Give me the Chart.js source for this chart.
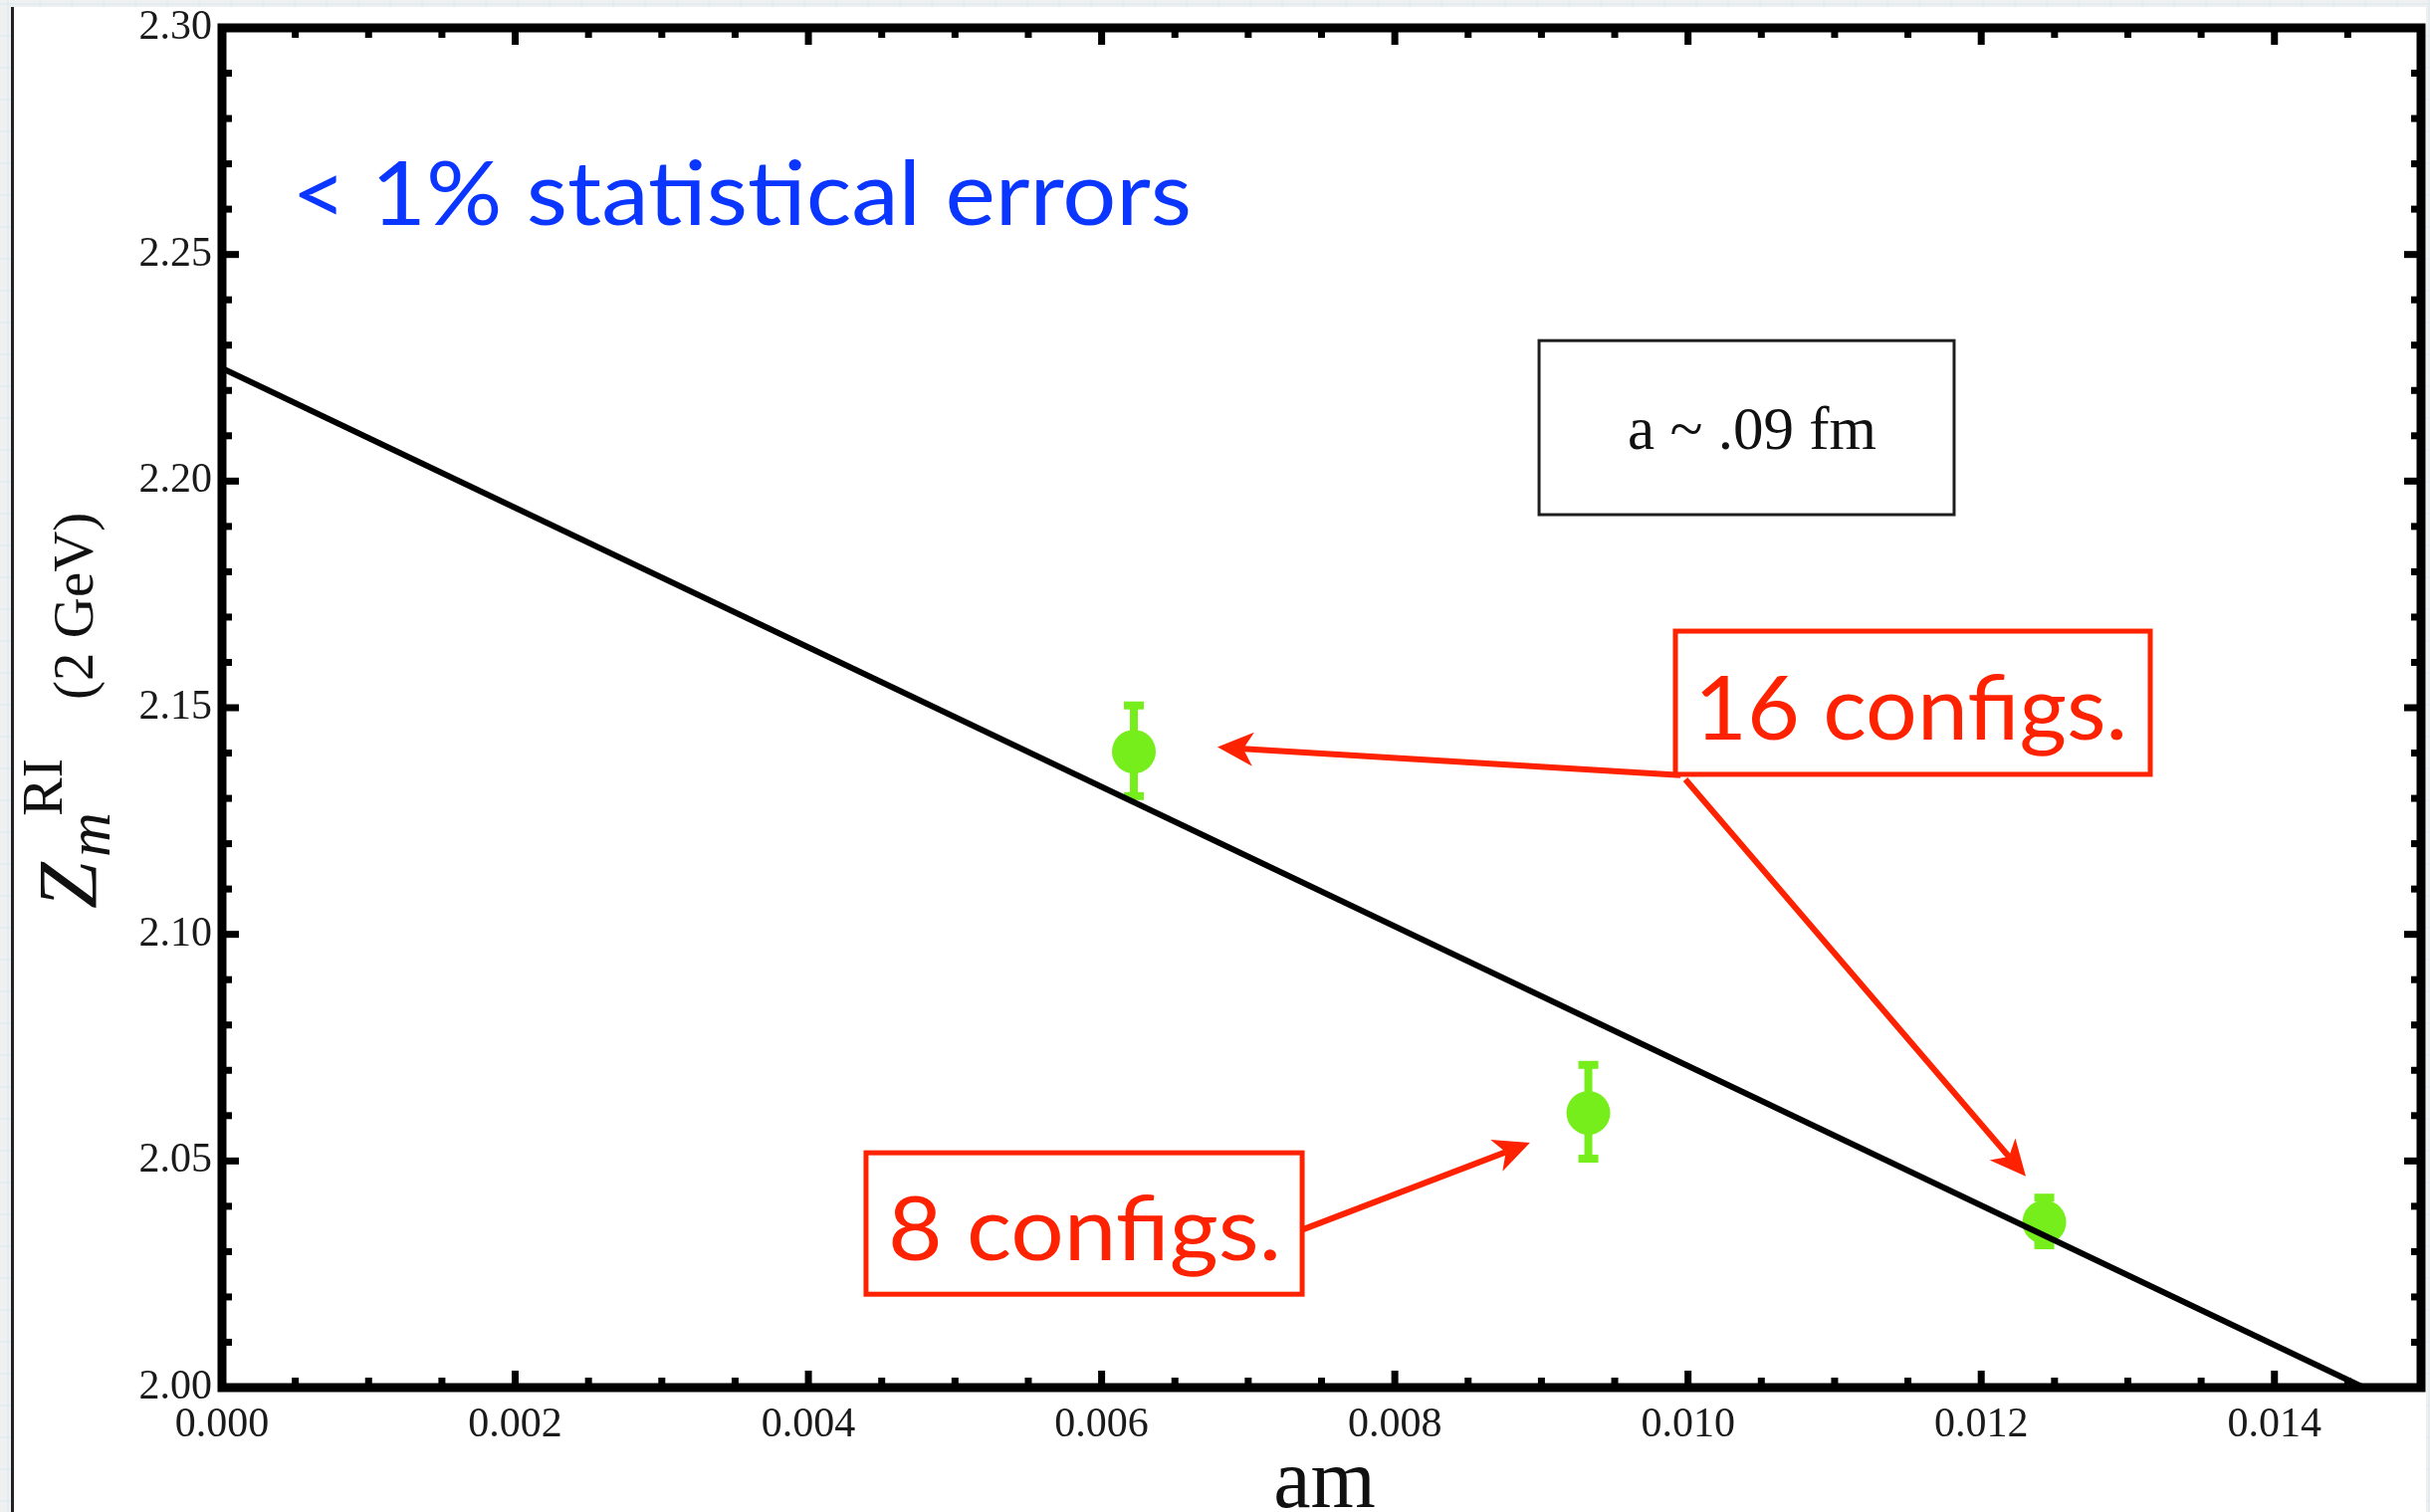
<!DOCTYPE html>
<html>
<head>
<meta charset="utf-8">
<title>Z_m^RI (2 GeV) vs am</title>
<script src="https://cdn.jsdelivr.net/npm/chart.js@4.4.1/dist/chart.umd.min.js"></script>
<style>
  html, body { margin: 0; padding: 0; background: #eef0f1; overflow: hidden; }
  #wrap { position: absolute; left: 0; top: 0; width: 2441px; height: 1519px; }
</style>
</head>
<body>
<div id="wrap"><canvas id="chart" width="2441" height="1519"></canvas></div>
<script>
/* ==========================
   DADOS
========================== */
const amValues  = [0.00622, 0.00932, 0.01243];
const zmValues  = [2.1403, 2.0606, 2.0365];
const zmErrLow  = [2.1305, 2.0505, 2.0314];
const zmErrHigh = [2.1505, 2.0712, 2.0419];

// reta do ajuste (extremos visíveis)
const fitAm = [0.0, 0.01461];
const fitZm = [2.2249, 2.0000];

const xTickValues = [0.000, 0.002, 0.004, 0.006, 0.008, 0.010, 0.012, 0.014];
const yTickValues = [2.00, 2.05, 2.10, 2.15, 2.20, 2.25, 2.30];

/* ==========================
   ANOTAÇÕES (coordenadas em dados)
========================== */
const notes = {
    stat:   { text: "< 1% statistical errors", x0: 0.000475, x1: 0.006614, y: 2.2565 },
    legend: { text: "a ~ .09 fm", x0: 0.008984, x1: 0.011815, y0: 2.2310, y1: 2.1926, tx: 0.010437, ty: 2.2072 },
    box16:  { text: "16 configs.", x0: 0.009914, x1: 0.013153, y0: 2.1669, y1: 2.1353, tx0: 0.010043, tx1: 0.012997, ty: 2.1430 },
    box8:   { text: "8 configs.",  x0: 0.004393, x1: 0.007368, y0: 2.0518, y1: 2.0206, tx0: 0.004543, tx1: 0.007225, ty: 2.0281 },
    arrows: [
        [0.009948, 2.1351, 0.006790, 2.1413],
        [0.009982, 2.1342, 0.012304, 2.0466],
        [0.007374, 2.0349, 0.008922, 2.0540]
    ]
};

const RED = "#ff2200";
const BLUE = "#0a36ff";
const GREEN = "#76ee1b";
const SERIF = "'Liberation Serif', 'Times New Roman', serif";
const SANS = "Lato, 'Open Sans', sans-serif";

/* ==========================
   AUXILIARES DE DESENHO
========================== */
function fitText(ctx, text, left, right, baseline, font, color) {
    ctx.save();
    ctx.font = font;
    const w = ctx.measureText(text).width;
    ctx.translate(left, baseline);
    ctx.scale((right - left) / w, 1);
    ctx.fillStyle = color;
    ctx.textAlign = "left";
    ctx.textBaseline = "alphabetic";
    ctx.fillText(text, 0, 0);
    ctx.restore();
}

function drawArrow(ctx, x1, y1, x2, y2, color) {
    const ang = Math.atan2(y2 - y1, x2 - x1);
    const headLen = 36, headHalf = 17, notch = 26;
    ctx.save();
    ctx.strokeStyle = color;
    ctx.fillStyle = color;
    ctx.lineWidth = 6;
    ctx.beginPath();
    ctx.moveTo(x1, y1);
    ctx.lineTo(x2 - notch * Math.cos(ang), y2 - notch * Math.sin(ang));
    ctx.stroke();
    ctx.translate(x2, y2);
    ctx.rotate(ang);
    ctx.beginPath();
    ctx.moveTo(0, 0);
    ctx.lineTo(-headLen, -headHalf);
    ctx.lineTo(-notch, 0);
    ctx.lineTo(-headLen, headHalf);
    ctx.closePath();
    ctx.fill();
    ctx.restore();
}

/* ==========================
   PLUGINS
========================== */
const pageBackground = {
    id: "pageBackground",
    beforeDraw(chart) {
        const ctx = chart.ctx;
        const W = chart.width, H = chart.height;
        ctx.save();
        ctx.fillStyle = "#eef0f1";
        ctx.fillRect(0, 0, W, H);
        ctx.strokeStyle = "#dce8ee";
        ctx.lineWidth = 1;
        for (let y = 4; y < H; y += 32) {
            ctx.beginPath(); ctx.moveTo(0, y); ctx.lineTo(W, y); ctx.stroke();
        }
        for (let x = 8; x < W; x += 32) {
            ctx.beginPath(); ctx.moveTo(x, 0); ctx.lineTo(x, H); ctx.stroke();
        }
        ctx.fillStyle = "#ffffff";
        ctx.fillRect(14, 7, 2437 - 14, H - 7);
        ctx.fillStyle = "#222222";
        ctx.fillRect(11, 7, 3, H - 7);
        ctx.restore();
    }
};

const errorBars = {
    id: "errorBars",
    beforeDatasetsDraw(chart) {
        const { ctx, scales: { x, y } } = chart;
        ctx.save();
        ctx.strokeStyle = GREEN;
        ctx.fillStyle = GREEN;
        ctx.lineWidth = 8;
        amValues.forEach((am, i) => {
            const px = x.getPixelForValue(am);
            const pLo = y.getPixelForValue(zmErrLow[i]);
            const pHi = y.getPixelForValue(zmErrHigh[i]);
            ctx.beginPath();
            ctx.moveTo(px, pLo);
            ctx.lineTo(px, pHi);
            ctx.stroke();
            ctx.fillRect(px - 10, pHi - 4, 20, 8);
            ctx.fillRect(px - 10, pLo - 4, 20, 8);
        });
        ctx.restore();
    }
};

const frameTicks = {
    id: "frameTicks",
    afterDatasetsDraw(chart) {
        const { ctx, chartArea: a, scales: { x, y } } = chart;
        ctx.save();
        ctx.fillStyle = "#000";
        // ticks internos nos quatro lados
        const xMinorStep = 0.0005, yMinorStep = 0.01;
        for (let k = 0; k <= 30; k++) {
            const v = k * xMinorStep;
            const major = k % 4 === 0;
            const len = major ? 17 : 10;
            const px = x.getPixelForValue(v);
            ctx.fillRect(px - 3.5, a.bottom - len, 7, len);
            ctx.fillRect(px - 3.5, a.top, 7, len);
        }
        for (let k = 0; k <= 30; k++) {
            const v = 2.0 + k * yMinorStep;
            const major = k % 5 === 0;
            const len = major ? 17 : 10;
            const py = y.getPixelForValue(v);
            ctx.fillRect(a.left, py - 3.5, len, 7);
            ctx.fillRect(a.right - len, py - 3.5, len, 7);
        }
        // moldura
        ctx.strokeStyle = "#000";
        ctx.lineWidth = 9;
        ctx.strokeRect(a.left, a.top, a.right - a.left, a.bottom - a.top);
        ctx.restore();
    }
};

const annotations = {
    id: "annotations",
    afterDraw(chart) {
        const { ctx, scales: { x, y }, chartArea: a } = chart;
        const X = v => x.getPixelForValue(v);
        const Y = v => y.getPixelForValue(v);

        // texto azul
        fitText(ctx, notes.stat.text, X(notes.stat.x0), X(notes.stat.x1), Y(notes.stat.y), "90px " + SANS, BLUE);

        // caixa da legenda
        const lg = notes.legend;
        ctx.save();
        ctx.strokeStyle = "#1e1e1e";
        ctx.lineWidth = 3;
        ctx.strokeRect(X(lg.x0), Y(lg.y0), X(lg.x1) - X(lg.x0), Y(lg.y1) - Y(lg.y0));
        ctx.fillStyle = "#111";
        ctx.font = "61px " + SERIF;
        ctx.textAlign = "center";
        ctx.textBaseline = "alphabetic";
        ctx.fillText(lg.text, X(lg.tx), Y(lg.ty));
        ctx.restore();

        // setas vermelhas
        notes.arrows.forEach(([x1, y1, x2, y2]) => drawArrow(ctx, X(x1), Y(y1), X(x2), Y(y2), RED));

        // caixas vermelhas
        [notes.box16, notes.box8].forEach(b => {
            ctx.save();
            ctx.fillStyle = "#fff";
            ctx.fillRect(X(b.x0), Y(b.y0), X(b.x1) - X(b.x0), Y(b.y1) - Y(b.y0));
            ctx.strokeStyle = RED;
            ctx.lineWidth = 5;
            ctx.strokeRect(X(b.x0), Y(b.y0), X(b.x1) - X(b.x0), Y(b.y1) - Y(b.y0));
            ctx.restore();
            fitText(ctx, b.text, X(b.tx0), X(b.tx1), Y(b.ty), "90px " + SANS, RED);
        });

        // título do eixo x
        ctx.save();
        ctx.fillStyle = "#111";
        ctx.font = "84px " + SERIF;
        ctx.textAlign = "center";
        ctx.textBaseline = "alphabetic";
        ctx.fillText("am", (a.left + a.right) / 2 + 3, 1514);
        ctx.restore();

        // título do eixo y: Z_m^RI (2 GeV)
        ctx.save();
        ctx.fillStyle = "#111";
        ctx.translate(97, 913);
        ctx.rotate(-Math.PI / 2);
        ctx.textAlign = "left";
        ctx.textBaseline = "alphabetic";
        ctx.font = "italic 84px " + SERIF;
        ctx.fillText("Z", 0, 0);
        ctx.font = "italic 62px " + SERIF;
        ctx.fillText("m", 52, 13);
        ctx.font = "58px " + SERIF;
        ctx.fillText("RI", 93, -35);
        ctx.font = "57px " + SERIF;
        ctx.fillText("(2 GeV)", 210, -4);
        ctx.restore();
    }
};

/* ==========================
   GRÁFICO
========================== */
const tickFont = { family: SERIF, size: 42 };

new Chart(document.getElementById("chart"), {
    data: {
        datasets: [
            {
                type: "line",
                label: "fit",
                data: fitAm.map((v, i) => ({ x: v, y: fitZm[i] })),
                borderColor: "#000",
                borderWidth: 6,
                pointRadius: 0,
                fill: false,
                order: 0
            },
            {
                type: "scatter",
                label: "Z_m^RI",
                data: amValues.map((v, i) => ({ x: v, y: zmValues[i] })),
                backgroundColor: GREEN,
                borderWidth: 0,
                pointRadius: 22,
                order: 1
            }
        ]
    },
    options: {
        responsive: false,
        animation: false,
        layout: { autoPadding: false, padding: { top: 28, right: 9, left: 0, bottom: 0 } },
        plugins: {
            legend: { display: false },
            tooltip: { enabled: false }
        },
        scales: {
            x: {
                type: "linear",
                min: 0,
                max: 0.015,
                grid: { display: false, drawTicks: false },
                border: { display: false },
                afterBuildTicks: s => { s.ticks = xTickValues.map(v => ({ value: v })); },
                afterFit: s => { s.height = 125; s.paddingLeft = 0; s.paddingRight = 0; },
                ticks: {
                    autoSkip: false,
                    maxRotation: 0,
                    padding: 13,
                    color: "#1a1a1a",
                    font: tickFont,
                    callback: v => Number(v).toFixed(3)
                }
            },
            y: {
                type: "linear",
                min: 2.0,
                max: 2.3,
                grid: { display: false, drawTicks: false },
                border: { display: false },
                afterBuildTicks: s => { s.ticks = yTickValues.map(v => ({ value: v })); },
                afterFit: s => { s.width = 223; s.paddingTop = 0; s.paddingBottom = 0; },
                ticks: {
                    autoSkip: false,
                    padding: 10,
                    color: "#1a1a1a",
                    font: tickFont,
                    callback: v => Number(v).toFixed(2)
                }
            }
        }
    },
    plugins: [pageBackground, errorBars, frameTicks, annotations]
});
</script>
</body>
</html>
